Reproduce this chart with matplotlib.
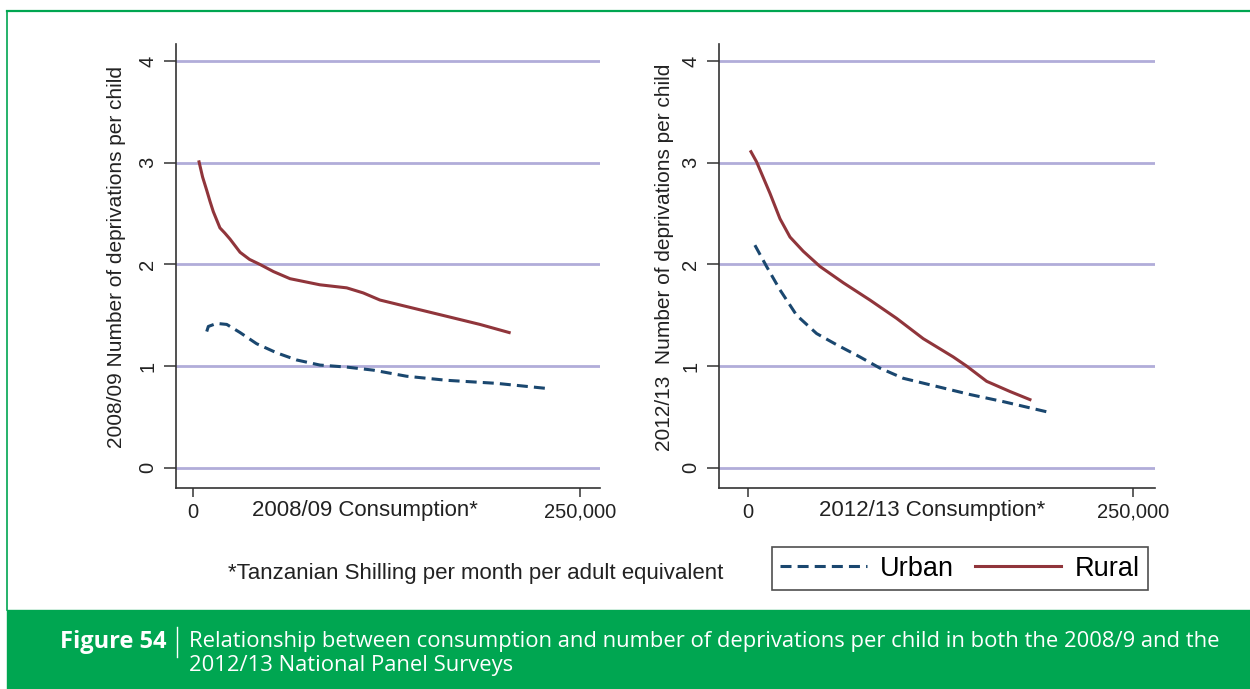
import matplotlib
matplotlib.use("Agg")
import matplotlib.pyplot as plt
from matplotlib.lines import Line2D
from matplotlib.patches import Rectangle

# ---- data: consumption (TSh / month / adult equivalent) vs deprivations per child
urban_0809_x = [8850, 9900, 15300, 21800, 30400, 41100, 54100, 67000, 82000, 99300,
                116500, 138000, 163900, 196200, 228500]
urban_0809_y = [1.34, 1.39, 1.42, 1.41, 1.33, 1.22, 1.13, 1.06, 1.01, 0.99,
                0.96, 0.90, 0.86, 0.83, 0.78]
rural_0809_x = [3900, 6200, 8850, 11000, 13100, 17400, 20500, 23900, 30400, 36500,
                43300, 52000, 62700, 82000, 99300, 110000, 120800, 142300, 163900,
                185400, 204300]
rural_0809_y = [3.01, 2.86, 2.73, 2.62, 2.52, 2.36, 2.31, 2.25, 2.12, 2.05,
                2.00, 1.93, 1.86, 1.80, 1.77, 1.72, 1.65, 1.57, 1.49,
                1.41, 1.33]

urban_1213_x = [4500, 12100, 20800, 31600, 44600, 57600, 72700, 85700, 100800,
                122500, 144200, 165800, 194000]
urban_1213_y = [2.19, 1.98, 1.75, 1.50, 1.32, 1.21, 1.09, 0.98, 0.88,
                0.80, 0.72, 0.65, 0.55]
rural_1213_x = [1950, 5600, 14300, 20800, 27300, 35900, 46800, 61900, 79200, 96500,
                113800, 133300, 142000, 155000, 170100, 183100]
rural_1213_y = [3.11, 3.01, 2.70, 2.45, 2.27, 2.13, 1.98, 1.82, 1.65, 1.47,
                1.27, 1.09, 1.00, 0.85, 0.75, 0.67]

y_ticks = [0, 1, 2, 3, 4]
x_ticks = [0, 250000]
x_tick_labels = ["0", "250,000"]
series_labels = ["Urban", "Rural"]
x_titles = ["2008/09 Consumption*", "2012/13 Consumption*"]
y_titles = ["2008/09 Number of deprivations per child",
            "2012/13  Number of deprivations per child"]
footnote = "*Tanzanian Shilling per month per adult equivalent"
fig_label = "Figure 54"
caption_lines = [
    "Relationship between consumption and number of deprivations per child in both the 2008/9 and the",
    "2012/13 National Panel Surveys",
]

# ---- styling
URBAN = "#1A476F"
RURAL = "#90353B"
GRID = "#B1ADD9"
GREEN = "#00A651"
AXCOL = "#333333"
TXT = "#222222"

plt.rcParams["font.family"] = ["Liberation Sans", "DejaVu Sans"]

W, H = 1250, 689
fig = plt.figure(figsize=(W / 100, H / 100), dpi=100)
fig.patch.set_facecolor("white")


def fx(px):
    return px / W


def fy(py):
    return 1 - py / H


panels = [
    dict(rect=[fx(176), fy(488), fx(600) - fx(176), fy(44) - fy(488)],
         xlim=(-11000, 263000), xlab_x=0.4458, ylab_x=-0.1415,
         urban=(urban_0809_x, urban_0809_y), rural=(rural_0809_x, rural_0809_y)),
    dict(rect=[fx(719), fy(488), fx(1155) - fx(719), fy(44) - fy(488)],
         xlim=(-18800, 264300), xlab_x=0.4885, ylab_x=-0.1239,
         urban=(urban_1213_x, urban_1213_y), rural=(rural_1213_x, rural_1213_y)),
]

LW = 2.2
DASH = (3.6, 2.0)

for i, p in enumerate(panels):
    ax = fig.add_axes(p["rect"])
    ax.set_xlim(*p["xlim"])
    ax.set_ylim(-0.2, 4.17)
    for yv in y_ticks:
        ax.axhline(yv, color=GRID, lw=2.0, zorder=1)
    ux, uy = p["urban"]
    rx, ry = p["rural"]
    ax.plot(ux, uy, color=URBAN, lw=LW, dashes=DASH, zorder=3)
    ax.plot(rx, ry, color=RURAL, lw=LW, zorder=3)

    for s in ["top", "right"]:
        ax.spines[s].set_visible(False)
    for s in ["left", "bottom"]:
        ax.spines[s].set_color(AXCOL)
        ax.spines[s].set_linewidth(1.2)

    ax.set_yticks(y_ticks)
    ax.set_yticklabels([str(v) for v in y_ticks], rotation=90, va="center")
    ax.set_xticks(x_ticks)
    ax.set_xticklabels(x_tick_labels)
    ax.tick_params(axis="y", length=8.5, width=1.1, color=AXCOL, pad=5,
                   labelsize=14.5, labelcolor=TXT)
    ax.tick_params(axis="x", length=6.5, width=1.1, color=AXCOL, pad=4,
                   labelsize=14.5, labelcolor=TXT)

    ax.set_xlabel(x_titles[i], fontsize=16, color=TXT, va="center")
    ax.xaxis.set_label_coords(p["xlab_x"], -0.05)
    ax.set_ylabel(y_titles[i], fontsize=15, color=TXT, va="center")
    ax.yaxis.set_label_coords(p["ylab_x"], 0.52)

# ---- footnote and legend
fig.text(fx(228), fy(574), footnote, fontsize=16, color=TXT,
         ha="left", va="center")

handles = [Line2D([], [], color=URBAN, lw=LW, dashes=DASH),
           Line2D([], [], color=RURAL, lw=LW)]
leg = fig.legend(handles, series_labels, loc="center",
                 bbox_to_anchor=(fx(960), fy(568.5)), ncol=2,
                 fontsize=19.5, frameon=True, fancybox=False,
                 handlelength=3.2, handletextpad=0.5, columnspacing=0.75,
                 borderpad=0.3, borderaxespad=0)
leg.get_frame().set_edgecolor("#222222")
leg.get_frame().set_linewidth(1.2)
for t in leg.get_texts():
    t.set_color("black")

# ---- page frame and caption band
fig.add_artist(Line2D([fx(7), fx(7)], [fy(11), fy(610)], color=GREEN, lw=1.2))
fig.add_artist(Line2D([fx(7), 1.0], [fy(11), fy(11)], color=GREEN, lw=1.6))
fig.add_artist(Rectangle((fx(7), 0), 1 - fx(7), fy(610), color=GREEN,
                         transform=fig.transFigure, zorder=0))
fig.add_artist(Line2D([fx(177), fx(177)], [fy(627), fy(657)], color="white", lw=1.0))
fig.text(fx(167), fy(642), fig_label, fontsize=17, fontweight="bold",
         color="white", ha="right", va="center",
         family=["Open Sans", "DejaVu Sans"])
for k, line in enumerate(caption_lines):
    fig.text(fx(189), fy(642 + 24 * k), line, fontsize=15.8, color="white",
             ha="left", va="center", family=["Open Sans", "DejaVu Sans"])

fig.savefig("out.png", dpi=100)
